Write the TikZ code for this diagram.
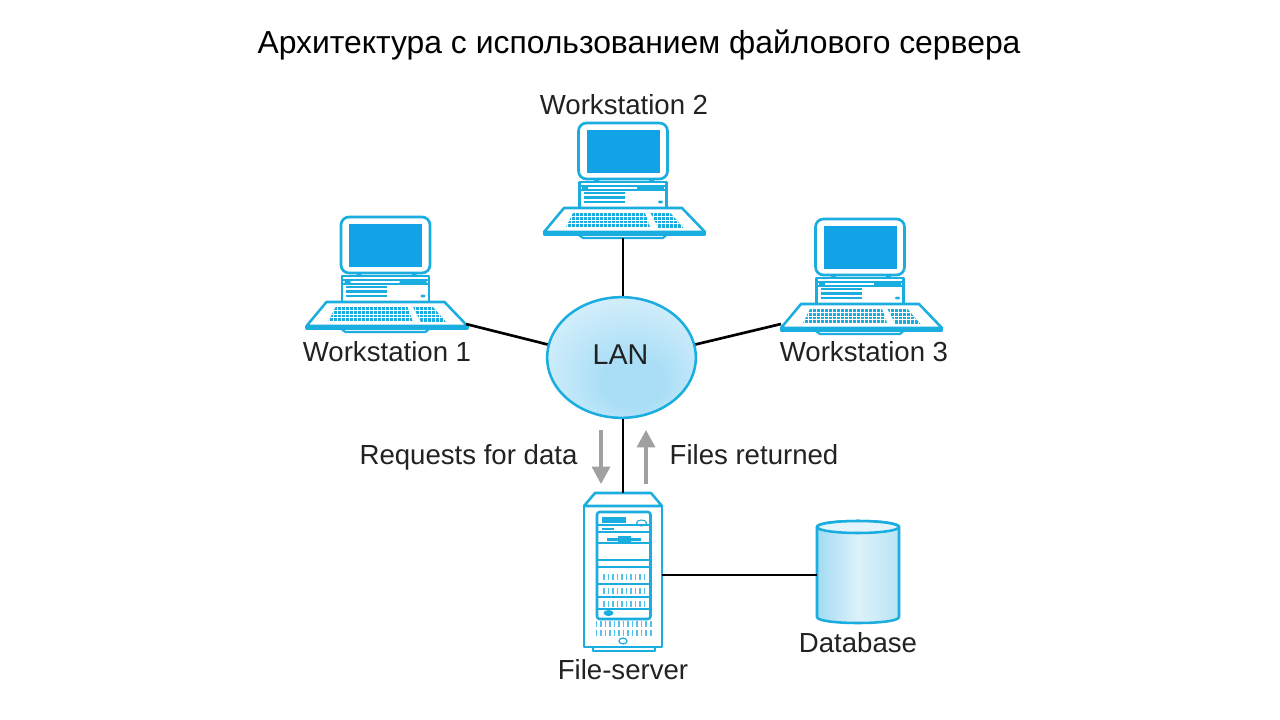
\documentclass[tikz,border=0pt]{standalone}
\usepackage{fontspec}
\setmainfont{Liberation Sans}
\usepackage{xcolor}
\usetikzlibrary{arrows.meta,shapes.geometric}
\definecolor{netcyan}{HTML}{1AADDF}
\definecolor{screenblue}{HTML}{12A3E6}
\definecolor{lanmid}{HTML}{A9DEF6}
\definecolor{lanedge}{HTML}{EAF7FD}
\definecolor{dbleft}{HTML}{A3DBF2}
\definecolor{dbmid}{HTML}{DDF1FB}
\definecolor{dbright}{HTML}{B9E4F6}
\definecolor{dbtop}{HTML}{E3F4FC}
\definecolor{arrowgray}{HTML}{A0A0A0}
\definecolor{textdark}{HTML}{222222}
\pgfdeclareradialshading{langlow}{\pgfpoint{5bp}{-13bp}}{color(0bp)=(lanmid);color(10bp)=(lanmid);color(42bp)=(lanedge);color(50bp)=(lanedge)}

\begin{document}
\begin{tikzpicture}[
    x=0.75pt,y=-0.75pt,
    lab/.style     = {font=\fontsize{20.7}{22}\selectfont,text=textdark,inner sep=0pt,anchor=base},
    titletext/.style = {font=\fontsize{23.9}{28}\selectfont,text=black,inner sep=0pt,anchor=base},
    wire/.style    = {black,line width=2pt},
    flow/.style    = {-{Triangle[length=13pt,width=13.5pt]},arrowgray,line width=2.3pt},
    cy/.style      = {netcyan,line width=1.6pt,line join=round},
    workstation/.pic = {
      \draw[cy,line width=2pt,rounded corners=6pt] (-44.5,-57) rectangle (44.5,-1);
      \fill[screenblue] (-36.5,-50) rectangle (36.5,-7);
      \fill[netcyan] (-29,-1) rectangle (-24,2) (26,-1) rectangle (31,2);
      \draw[cy] (-43.5,2) rectangle (43.5,28);
      \draw[cy,line width=0.8pt] (-43.5,6) -- (43.5,6) (-43.5,10) -- (43.5,10);
      \fill[netcyan] (-41,6) rectangle (-35,10) (14,6) rectangle (41,10);
      \foreach \rowy in {13,17.5,22} {
        \draw[cy,line width=1.8pt] (-39.5,\rowy) -- (1.5,\rowy);
      }
      \fill[netcyan] (37.5,22) ellipse (2.5 and 1.5);
      % plate and foot
      \draw[cy,line width=1.9pt] (-59,28) -- (59,28) -- (82,52) -- (-79,52) -- cycle;
      \draw[cy] (-79,52) -- (-79,54.5) -- (82,54.5) -- (82,52);
      \draw[cy] (-45,54.5) -- (-40,58) -- (40,58) -- (44,54.5);
      % keys
      \begin{scope}
        \clip (-50,33) -- (22,33) -- (27,47) -- (-57,47) -- cycle;
        \fill[netcyan] (-60,33) rectangle (30,47);
        \foreach \keyx in {-60,-56,...,30} {
          \draw[white,line width=0.7pt] (\keyx,33) -- (\keyx,47);
        }
        \foreach \keyy in {36.5,40,43.5} {
          \draw[white,line width=0.6pt] (-60,\keyy) -- (30,\keyy);
        }
      \end{scope}
      \begin{scope}
        \clip (27.5,33) -- (47.5,33) -- (60.5,48) -- (35.5,48) -- cycle;
        \fill[netcyan] (25,33) rectangle (62,48);
        \foreach \keyx in {26,30,...,62} {
          \draw[white,line width=0.7pt] (\keyx,33) -- (\keyx,48);
        }
        \foreach \keyy in {36.5,40,43.5} {
          \draw[white,line width=0.6pt] (25,\keyy) -- (62,\keyy);
        }
      \end{scope}
      \coordinate (-port) at (0,58);
      \coordinate (-left) at (-79,48);
      \coordinate (-right) at (80.5,50);
    },
    fileserver/.pic = {
      \draw[cy,line width=1.9pt] (-39,13) -- (-28,0) -- (28,0) -- (39,13) -- cycle;
      \draw[cy,line width=1.9pt] (-39,13) rectangle (39,154);
      \draw[cy] (-30,154) rectangle (32,158);
      \draw[cy,line width=1.9pt,rounded corners=2pt] (-26,19) rectangle (27.5,126);
      \foreach \rowy in {32,39,50,67,74,91,104,116} {
        \draw[cy,line width=1pt] (-26,\rowy) -- (27.5,\rowy);
      }
      \fill[netcyan] (-21.5,24) rectangle (2.5,30);
      \draw[cy,line width=0.8pt] (18.5,30) ellipse (5 and 3);
      \fill[netcyan] (-21,34.5) rectangle (-9,37);
      \fill[netcyan] (-16,45) rectangle (18,48) (-5,43) rectangle (8,50);
      \foreach \rowy in {84,98,111} {
        \draw[netcyan!75,line width=5pt,dash pattern=on 1.2pt off 2.2pt] (-20,\rowy) -- (21,\rowy);
      }
      \foreach \rowy in {131,140} {
        \draw[netcyan!75,line width=5pt,dash pattern=on 1.2pt off 2.2pt] (-27.5,\rowy) -- (28.5,\rowy);
      }
      \fill[netcyan] (-14.5,120) ellipse (5 and 3);
      \draw[cy,line width=0.9pt] (0,148) ellipse (4 and 3);
      \coordinate (-top) at (0,0);
      \coordinate (-side) at (39,82);
    },
    database/.pic = {
      \draw[cy,line width=1.9pt,left color=dbleft,right color=dbright,middle color=dbmid]
        (-41,6) -- (-41,96) .. controls (-41,104) and (41,104) .. (41,96)
        -- (41,6) .. controls (41,-2) and (-41,-2) .. (-41,6) -- cycle;
      \draw[cy,line width=1.9pt,fill=dbtop] (0,6) ellipse (41 and 6);
      \coordinate (-side) at (-41,54);
    },
  ]

  \useasboundingbox (0,0) rectangle (1280,720);
  \fill[white] (0,0) rectangle (1280,720);

  \node[titletext] (title) at (639,54) {Архитектура с использованием файлового сервера};

  \node[ellipse,draw=netcyan,line width=1.9pt,shading=langlow,
        inner sep=0pt,minimum width=111.5pt,minimum height=90.5pt] (lan) at (621.5,357.5) {};
  \node[lab,font=\fontsize{21.5}{23}\selectfont] (lanlab) at (620.5,364) {LAN};

  \pic (ws1) at (385.5,274) {workstation};
  \pic (ws2) at (623,180) {workstation};
  \pic (ws3) at (860,276) {workstation};
  \pic (srv) at (623,493) {fileserver};
  \pic (db)  at (858,521) {database};

  \node[lab] (ws1lab) at (387,361) {Workstation 1};
  \node[lab] (ws2lab) at (624,115) {Workstation 2};
  \node[lab] (ws3lab) at (864,361) {Workstation 3};
  \node[lab] (reqlab) at (468.5,464) {Requests for data};
  \node[lab] (retlab) at (754,464) {Files returned};
  \node[lab] (srvlab) at (623,679) {File-server};
  \node[lab] (dblab)  at (858,652) {Database};

  \draw[wire] (ws1-right) -- (lan.170);
  \draw[wire] (ws2-port) -- (ws2-port |- lan.north);
  \draw[wire] (ws3-left) -- (lan.10);
  \draw[wire] (lan.south -| srv-top) -- (srv-top);
  \draw[wire] (srv-side) -- (db-side);

  \coordinate (reqtop) at (601,430);
  \coordinate (reqend) at (601,484);
  \coordinate (retbot) at (646,484);
  \coordinate (retend) at (646,430);
  \draw[flow] (reqtop) -- (reqend);
  \draw[flow] (retbot) -- (retend);

\end{tikzpicture}
\end{document}
